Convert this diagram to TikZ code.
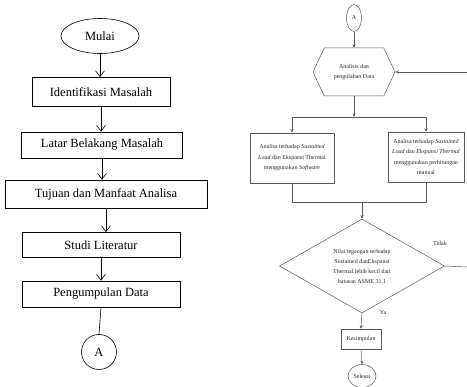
\documentclass[tikz,border=0pt]{standalone}
\usepackage{fontspec}
\setmainfont{Liberation Serif}
\usetikzlibrary{shapes.geometric,shapes.symbols,arrows.meta}

\begin{document}
\begin{tikzpicture}[
x=1pt,y=1pt,
kotak/.style={
  draw,
  rectangle,
  line width=0.6pt,
  inner sep=0pt,
  font=\fontsize{12.5}{15}\selectfont
  },
kecil/.style={
  draw=black!65,
  line width=0.5pt,
  inner sep=0pt,
  align=center,
  text=black!85,
  font=\fontsize{6}{10.5}\selectfont
  },
label/.style={
  inner sep=0pt,
  text=black!85,
  font=\fontsize{6}{8}\selectfont
  },
alur/.style={
  line width=0.6pt,
  -{Straight Barb[length=6pt,width=9pt]}
  },
garis/.style={
  draw=black!65,
  line width=0.5pt
  },
panah/.style={
  garis,
  -{Stealth[length=3.5pt,width=3pt]}
  }
]
\useasboundingbox (0,0) rectangle (467,-387);
% kiri
\node[kotak,ellipse,minimum width=78pt,minimum height=35pt] (mulai) at (100,-36) {Mulai};
\node[kotak,minimum width=138pt,minimum height=29pt] (identifikasi) at (101,-92) {Identifikasi Masalah};
\node[kotak,minimum width=161pt,minimum height=26pt] (latar) at (102,-145) {Latar Belakang Masalah};
\node[kotak,minimum width=202pt,minimum height=28pt] (tujuan) at (106,-194) {Tujuan dan Manfaat Analisa};
\node[kotak,minimum width=158pt,minimum height=25pt] (studi) at (101,-245) {Studi Literatur};
\node[kotak,minimum width=158pt,minimum height=26pt] (pengumpulan) at (101,-294) {Pengumpulan Data};
\node[kotak,circle,minimum size=35pt] (penghubung) at (99,-352) {A};
\foreach \a/\b in {mulai/identifikasi,identifikasi/latar,latar/tujuan,tujuan/studi,studi/pengumpulan}
  \draw[alur] (\a.south) -- (\a.south |- \b.north);
\draw[line width=0.6pt] (pengumpulan.south) -- (penghubung.north);
% kanan
\node[kecil,ellipse,minimum width=15pt,minimum height=27pt] (konA) at (354,-18) {A};
\node[kecil,signal,signal to=west and east,signal pointer angle=130,
  minimum width=82pt,minimum height=48pt] (analisis) at (354,-72) {Analisis dan\\pengolahan Data};
\node[kecil,minimum width=84pt,minimum height=50pt] (kiri) at (292,-158)
  {Analisa terhadap \textit{Sustained}\\\textit{Load} dan Ekspansi Thermal\\menggunakan \textit{Software}};
\node[kecil,minimum width=76pt,minimum height=50pt] (kanan) at (426,-157)
  {Analisa terhadap \textit{Sustained}\\\textit{Load} dan \textit{Ekspansi Thermal}\\menggunakan perhitungan\\manual};
\node[kecil,diamond,minimum width=165pt,minimum height=94pt,font=\fontsize{6}{10}\selectfont] (keputusan) at (362,-266)
  {Nilai tegangan terhadap\\Sustained danEkspansi\\Thermal lebih kecil dari\\batasan ASME 31.1};
\node[kecil,minimum width=40pt,minimum height=20pt] (kesimpulan) at (361,-339) {Kesimpulan};
\node[kecil,ellipse,minimum width=28pt,minimum height=23pt] (selesai) at (362,-376) {Selesai};
\node[label] (tidak) at (440,-243) {Tidak};
\node[label] (ya) at (383,-313) {Ya};
\coordinate (cabang) at (354,-117);
\coordinate (gabung) at (362,-202);
\coordinate (tepibawah) at (467,-267);
\coordinate (tepiatas) at (467,-72);
\draw[panah] (konA) -- (analisis.north);
\draw[panah] (analisis.south) -- (cabang);
\draw[garis] (kiri.north |- cabang) -- (kanan.north |- cabang);
\foreach \k in {kiri,kanan}
  \draw[panah] (\k.north |- cabang) -- (\k.north);
\draw[garis] (kiri.south) -- (kiri.south |- gabung) -- (kanan.south |- gabung) -- (kanan.south);
\draw[panah] (gabung) -- (keputusan.north);
\draw[panah] (keputusan.south) -- (kesimpulan.north);
\draw[panah] (kesimpulan.south) -- (selesai.north);
\draw[garis] (keputusan.east) -- (tepibawah);
\draw[panah] (tepiatas) -- (analisis.east);
\end{tikzpicture}
\end{document}
